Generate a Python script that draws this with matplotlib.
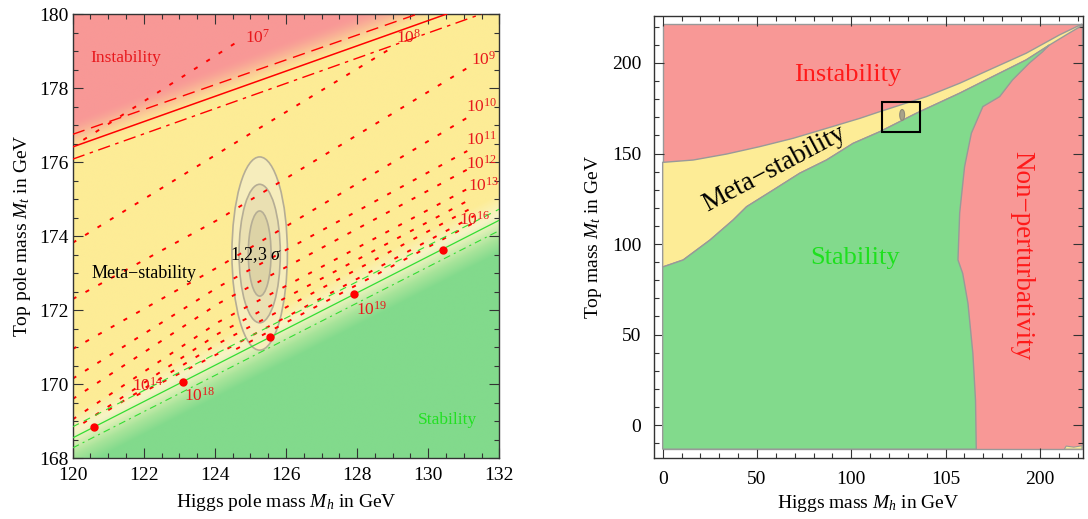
import numpy as np
import matplotlib
matplotlib.use('Agg')
import matplotlib.pyplot as plt
from matplotlib.patches import Polygon, Ellipse, Rectangle
from matplotlib.ticker import MultipleLocator, FixedLocator

plt.rcParams['font.family'] = ['Liberation Serif', 'DejaVu Serif']
plt.rcParams['mathtext.fontset'] = 'custom'
plt.rcParams['mathtext.rm'] = 'Liberation Serif'
plt.rcParams['mathtext.it'] = 'Liberation Serif:italic'
plt.rcParams['lines.scale_dashes'] = False

# ---------------- Left panel data ----------------
inst_solid_mh = [120.0, 130.52]
inst_solid_mt = [176.41, 180.0]
inst_dash_hi_mh = [120.0, 129.7]
inst_dash_hi_mt = [176.75, 180.0]
inst_dash_lo_mh = [120.0, 131.5]
inst_dash_lo_mt = [176.08, 180.0]
inst_shade_mh = [120.0, 129.4]
inst_shade_mt = [176.65, 180.0]
stab_mh = [120.0, 132.0]
stab_mt = [168.55, 174.43]
stab_hi_mt = [168.85, 174.73]
stab_lo_mt = [168.28, 174.15]

# dotted contours of the instability scale (polylines: left, middle, right point)
c7_mh, c7_mt = [120.3, 124.55], [176.6, 179.2]
c8_mh, c8_mt = [120.0, 124.93, 129.0], [173.82, 176.73, 179.1]
c9_mh, c9_mt = [120.0, 124.1, 131.2], [172.3, 174.45, 178.6]
c10_mh, c10_mt = [120.0, 124.1, 131.1], [170.95, 173.17, 177.2]
c11_mh, c11_mt = [120.0, 124.1, 131.1], [170.15, 172.63, 176.3]
c12_mh, c12_mt = [120.0, 124.1, 131.1], [169.6, 172.18, 175.8]
c13_mh, c13_mt = [120.0, 124.1, 131.15], [169.05, 171.68, 175.3]
c14_mh, c14_mt = [120.3, 124.1, 131.2], [168.95, 171.37, 175.0]
c15_mh, c15_mt = [121.0, 124.1, 131.3], [169.3, 171.1, 174.8]
c16_mh, c16_mt = [121.8, 124.1, 131.3], [169.7, 170.83, 174.55]
c17_mh, c17_mt = [124.6, 131.4], [170.95, 174.42]
contours = [(c7_mh, c7_mt), (c8_mh, c8_mt), (c9_mh, c9_mt), (c10_mh, c10_mt), (c11_mh, c11_mt),
            (c12_mh, c12_mt), (c13_mh, c13_mt), (c14_mh, c14_mt), (c15_mh, c15_mt), (c16_mh, c16_mt),
            (c17_mh, c17_mt)]

lab_text = ['7', '8', '9', '10', '11', '12', '13', '16', '14', '18', '19']
lab_mh = [125.2, 129.45, 131.55, 131.5, 131.5, 131.5, 131.55, 131.3, 122.1, 123.58, 128.42]
lab_mt = [179.35, 179.35, 178.76, 177.5, 176.6, 175.95, 175.36, 174.43, 169.97, 169.68, 172.0]

dot_mh = [120.61, 123.09, 125.55, 127.91, 130.43]
dot_mt = [168.85, 170.06, 171.28, 172.45, 173.62]

ell_center = (125.26, 173.53)
ell_halfw = [0.78, 0.58, 0.32]
ell_halfh = [2.61, 1.87, 1.15]

# ---------------- Right panel data ----------------
meta_up_mh = [0, 16.2, 33.9, 51.5, 69.2, 86.9, 104.5, 115.1, 139.8, 157.5, 175.1, 192.8, 210.4, 222.4]
meta_up_mt = [145.1, 146.4, 149.7, 153.8, 158.4, 163.9, 169.4, 173.1, 181.4, 188.8, 197.1, 205.4, 215.5, 221.5]
meta_lo_mh = [0, 10.9, 25.1, 37.4, 44.5, 58.6, 72.7, 86.9, 101.0, 115.1, 134.5, 157.5, 174.9, 192.8, 205.1, 215.7, 222.4]
meta_lo_mt = [87.3, 91.2, 102.2, 113.3, 120.6, 129.8, 139.1, 146.4, 155.6, 162.0, 172.2, 183.3, 192.4, 201.7, 209.9, 216.6, 220.7]
npert_mh = [166.3, 165.9, 164.5, 161.9, 159.1, 156.6, 157.5, 160.1, 163.7, 169.8, 178.7, 185.5, 194.5, 201.4, 205.1]
npert_mt = [-13.3, 13.8, 39.6, 67.2, 83.8, 91.2, 117.1, 142.7, 161.2, 175.9, 181.4, 190.6, 200.0, 206.1, 210.0]
blob_mh = [213.0, 214.0, 218.0, 222.4, 222.4]
blob_mt = [-13.3, -11.6, -12.2, -11.4, -13.3]
region_mh = [0.0, 222.4]
region_mt = [-13.3, 221.5]
box_mh = [116.3, 136.7]
box_mt = [162.0, 178.3]
small_ell = (127.0, 171.3)

right_xticks = [0, 50, 100, 150, 200]
right_xlabels = ['0', '50', '100', '105', '200']
right_yticks = [0, 50, 100, 150, 200]

# ---------------- colours ----------------
PINK = np.array([248, 152, 150]) / 255
YELLOW = np.array([253, 236, 150]) / 255
GREEN = np.array([130, 218, 140]) / 255
PALE = np.array([247, 244, 198]) / 255
PALEG = np.array([222, 240, 182]) / 255
LGREEN = np.array([168, 228, 154]) / 255
RED = '#E8181C'

fig = plt.figure(figsize=(10.88, 5.19), dpi=100)

# ================= Left panel =================
ax = fig.add_axes([0.0668, 0.1170, 0.3921, 0.8560])

def lin(x, xs, ys):
    s = (ys[1] - ys[0]) / (xs[1] - xs[0])
    return ys[0] + s * (x - xs[0])

H, T = np.meshgrid(np.linspace(120, 132, 700), np.linspace(168, 180, 700))
ds = T - lin(H, stab_mh, stab_mt)
xp = [-0.9, -0.5, -0.1, 0.15, 0.7]
img = np.zeros(H.shape + (3,))
for c in range(3):
    img[..., c] = np.interp(ds, xp, [GREEN[c], LGREEN[c], PALEG[c], PALE[c], YELLOW[c]])
di = T - lin(H, inst_shade_mh, inst_shade_mt)
p = np.clip((di + 0.5) / 1.0, 0, 1)
p = p * p * (3 - 2 * p)
img = img * (1 - p[..., None]) + PINK * p[..., None]
ax.imshow(img, extent=[120, 132, 168, 180], origin='lower', aspect='auto', interpolation='bilinear', zorder=0)

ell_fc = ['#F6EDBC', '#EAE0B2', '#DDD3A6']
for w, h, fc in zip(ell_halfw, ell_halfh, ell_fc):
    ax.add_patch(Ellipse(ell_center, 2 * w, 2 * h, facecolor=fc, edgecolor='#B5AD95', lw=1.2, zorder=1))

for xs, ys in contours:
    ax.plot(xs, ys, color='red', lw=1.4, dashes=(3, 7.5), zorder=2)

ax.plot(inst_solid_mh, inst_solid_mt, color='red', lw=1.1, zorder=3)
ax.plot(inst_dash_hi_mh, inst_dash_hi_mt, color='red', lw=1.0, dashes=(9, 5), zorder=3)
ax.plot(inst_dash_lo_mh, inst_dash_lo_mt, color='red', lw=1.0, dashes=(9, 4, 2.5, 4), zorder=3)

ax.plot(stab_mh, stab_mt, color='#33DD33', lw=0.9, zorder=3)
ax.plot(stab_mh, stab_hi_mt, color='#33DD33', lw=0.8, dashes=(5, 4), zorder=3)
ax.plot(stab_mh, stab_lo_mt, color='#33DD33', lw=0.8, dashes=(5, 3, 1.5, 3), zorder=3)

ax.plot(dot_mh, dot_mt, 'o', color='red', ms=5, zorder=4)

for t, x, y in zip(lab_text, lab_mh, lab_mt):
    ax.text(x, y, r'$\mathrm{10}^{%s}$' % t, color=RED, fontsize=12.5, ha='center', va='center', zorder=5)

ax.text(120.5, 178.81, 'Instability', color=RED, fontsize=12.5, ha='left', va='center', zorder=5)
ax.text(120.53, 172.99, 'Meta\u2212stability', color='black', fontsize=13, ha='left', va='center', zorder=5)
ax.text(131.37, 169.03, 'Stability', color='#22E022', fontsize=12.5, ha='right', va='center', zorder=5)
ax.text(125.15, 173.5, r'1,2,3 $\sigma$', color='black', fontsize=13, ha='center', va='center', zorder=5)

ax.set_xlim(120, 132)
ax.set_ylim(168, 180)
ax.xaxis.set_major_locator(MultipleLocator(2))
ax.xaxis.set_minor_locator(MultipleLocator(0.5))
ax.yaxis.set_major_locator(MultipleLocator(2))
ax.yaxis.set_minor_locator(MultipleLocator(0.5))
ax.tick_params(which='both', direction='in', top=True, right=True, labelsize=14, color='#333333')
ax.tick_params(which='major', length=7, width=0.8)
ax.tick_params(which='minor', length=3.5, width=0.8)
ax.tick_params(axis='x', pad=6)
ax.tick_params(axis='y', pad=3)
ax.set_xlabel(r'Higgs pole mass $M_h$ in GeV', fontsize=14, labelpad=6)
ax.set_ylabel(r'Top pole mass $M_t$ in GeV', fontsize=14, labelpad=4)
for s in ax.spines.values():
    s.set_color('#333333')
    s.set_linewidth(1.0)

# ================= Right panel =================
ax2 = fig.add_axes([0.6011, 0.1175, 0.3943, 0.8522])
rx0, rx1 = region_mh
ry0, ry1 = region_mt
ax2.add_patch(Rectangle((rx0, ry0), rx1 - rx0, ry1 - ry0, facecolor=PINK, edgecolor='#999999', lw=1.0, zorder=1))
meta_poly = list(zip(meta_up_mh, meta_up_mt)) + list(zip(meta_lo_mh[::-1], meta_lo_mt[::-1]))
ax2.add_patch(Polygon(meta_poly, closed=True, facecolor=YELLOW, edgecolor='#999999', lw=1.0, zorder=2))
k = 14
green_poly = [(0, meta_lo_mt[0]), (0, ry0)] + list(zip(npert_mh, npert_mt)) + list(zip(meta_lo_mh[k::-1], meta_lo_mt[k::-1]))
ax2.add_patch(Polygon(green_poly, closed=True, facecolor=GREEN, edgecolor='#999999', lw=1.0, zorder=3))
ax2.add_patch(Polygon(list(zip(blob_mh, blob_mt)), closed=True, facecolor=YELLOW, edgecolor='#999999', lw=0.8, zorder=3))
ax2.add_patch(Rectangle((box_mh[0], box_mt[0]), box_mh[1] - box_mh[0], box_mt[1] - box_mt[0], facecolor='none', edgecolor='black', lw=1.5, zorder=5))
ax2.add_patch(Ellipse(small_ell, 2.6, 6.0, facecolor='#A8A28A', edgecolor='#8E8A78', lw=0.8, zorder=4))

ax2.text(97.9, 193.4, 'Instability', color='#FF1A1A', fontsize=19, ha='center', va='center', zorder=6)
ax2.text(59.5, 141.5, 'Meta\u2212stability', color='black', fontsize=19.5, ha='center', va='center', rotation=28, zorder=6)
ax2.text(101.9, 92.3, 'Stability', color='#1EE01E', fontsize=19, ha='center', va='center', zorder=6)
ax2.text(190.2, 93.4, 'Non\u2212perturbativity', color='#FF1A1A', fontsize=19.5, ha='center', va='center', rotation=-90, zorder=6)

ax2.set_xlim(-4.6, 222.9)
ax2.set_ylim(-18.2, 226.1)
ax2.xaxis.set_major_locator(FixedLocator(right_xticks))
ax2.set_xticklabels(right_xlabels)
ax2.xaxis.set_minor_locator(MultipleLocator(10))
ax2.yaxis.set_major_locator(FixedLocator(right_yticks))
ax2.yaxis.set_minor_locator(MultipleLocator(10))
ax2.tick_params(which='both', direction='in', top=True, right=True, labelsize=14, color='#333333')
ax2.tick_params(which='major', length=7, width=0.8)
ax2.tick_params(which='minor', length=3.5, width=0.8)
ax2.tick_params(axis='both', pad=9)
ax2.set_xlabel(r'Higgs mass $M_h$ in GeV', fontsize=14, labelpad=4)
ax2.set_ylabel(r'Top mass $M_t$ in GeV', fontsize=14, labelpad=6)
for s in ax2.spines.values():
    s.set_color('#333333')
    s.set_linewidth(1.0)

fig.savefig('out.png', dpi=100)
